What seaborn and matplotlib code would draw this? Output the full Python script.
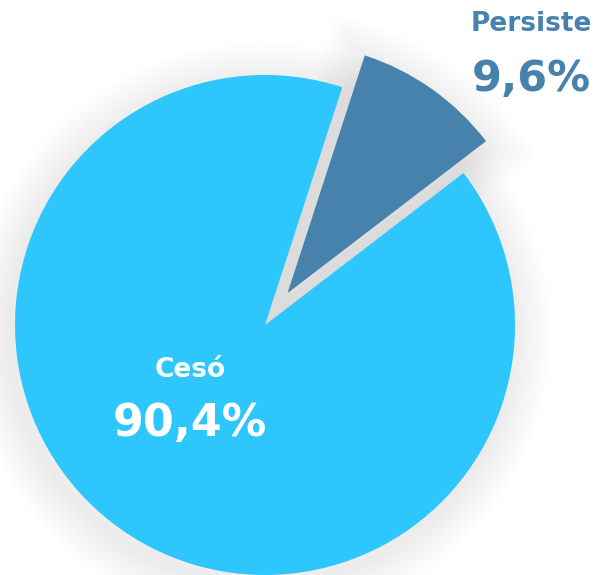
import matplotlib
matplotlib.use("Agg")
import matplotlib.pyplot as plt
import seaborn as sns

# datos
labels = ['Cesó', 'Persiste']
values = [90.4, 9.6]
colors = ['#2DC7FE', '#4682AB']
label_colors = ['white', '#4682AB']

sns.set_theme(style='white')
plt.rcParams['font.family'] = ['DejaVu Sans']

fig = plt.figure(figsize=(5.97, 5.75), dpi=100)
ax = fig.add_axes([0, 0, 1, 1])

R = 250
C = (265, 250)
explode = [0, 39]  # en unidades de datos (px)

# sombra difusa (solo bordes, varias capas)
for lw in range(60, 0, -3):
    ax.pie(values, colors=[(0, 0, 0, 0)] * 2, radius=R, center=(C[0] - 4, C[1] - 8),
           explode=explode, startangle=72,
           wedgeprops=dict(linewidth=lw, edgecolor=(0, 0, 0, 0.0045)))

ax.pie(values, colors=colors, radius=R, center=C, explode=explode, startangle=72,
       wedgeprops=dict(linewidth=0))

ax.set_xlim(0, 597)
ax.set_ylim(0, 575)
ax.set_aspect('equal')
ax.axis('off')

def pct(v):
    return f"{v:.1f}%".replace('.', ',')

# Cesó
ax.text(190, 205, labels[0], color=label_colors[0], fontsize=19, fontweight='bold',
        ha='center', va='center')
ax.text(190, 151, pct(values[0]), color=label_colors[0], fontsize=32, fontweight='bold',
        ha='center', va='center')
# Persiste
ax.text(531, 551, labels[1], color=label_colors[1], fontsize=19, fontweight='bold',
        ha='center', va='center')
ax.text(531, 496, pct(values[1]), color=label_colors[1], fontsize=31, fontweight='bold',
        ha='center', va='center')

fig.savefig('out.png', dpi=100)
